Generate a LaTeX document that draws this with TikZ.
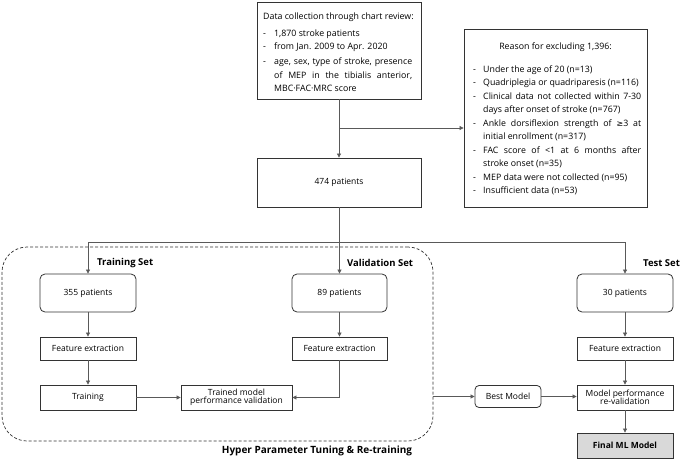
\documentclass[tikz,border=0pt]{standalone}
\usepackage{fontspec}
\setmainfont{Open Sans}
\newfontfamily\dejavu{DejaVu Sans}
\usetikzlibrary{arrows.meta}
\newcommand\itmA[1]{\makebox[11pt][l]{-}#1}
\newcommand\itmB[1]{\makebox[10pt][l]{-}#1}
\begin{document}
\begin{tikzpicture}[x=1pt,y=-1pt,
  box/.style={draw=black!80, line width=0.8pt, fill=white, inner sep=0pt, align=center, font=\fontsize{8.5}{10}\selectfont},
  rbox/.style={box, rounded corners=5pt},
  txt/.style={inner sep=0pt, align=left},
  lbl/.style={inner sep=0pt, font=\fontsize{9.5}{11}\selectfont\bfseries},
  ln/.style={draw=black!65, line width=0.7pt},
  arr/.style={ln, -{Triangle[length=4pt,width=4pt]}}]
\useasboundingbox (0,0) rectangle (685,460);

% dashed hyper-parameter region
\node[draw=black!80, dash pattern=on 3pt off 2pt, line width=0.7pt, rounded corners=25pt, minimum width=431, minimum height=194, inner sep=0pt] (hpt) at (217.5,344) {};

% top boxes
\node[box, minimum width=164, minimum height=97] (data) at (339,50.5) {};
\node[txt, anchor=north west, font=\fontsize{8.8}{14}\selectfont] (datatxt) at (263,10) {\begin{tabular}{@{}l@{}}
Data collection through chart review:\\[2pt]
\itmA{1,870 stroke patients}\\
\itmA{from Jan. 2009 to Apr. 2020}\\
\itmA{\makebox[138pt][s]{age, sex, type of stroke, presence}}\\
\hspace{11pt}\makebox[138pt][s]{of MEP in the tibialis anterior,}\\
\hspace{11pt}MBC·FAC·MRC score
\end{tabular}};

\node[box, minimum width=183, minimum height=178] (excl) at (555.5,118) {};
\node[inner sep=0pt, font=\fontsize{8.8}{10}\selectfont] (excltitle) at (555.5,47) {Reason for excluding 1,396:};
\node[txt, anchor=north west, font=\fontsize{8.8}{13.5}\selectfont] (excltxt) at (473,62.5) {\begin{tabular}{@{}l@{}}
\itmB{Under the age of 20 (n=13)}\\
\itmB{Quadriplegia or quadriparesis (n=116)}\\
\itmB{\makebox[158pt][s]{Clinical data not collected within 7-30}}\\
\hspace{10pt}days after onset of stroke (n=767)\\
\itmB{\makebox[158pt][s]{Ankle dorsiflexion strength of {\dejavu\fontsize{8}{10}\selectfont ≥}3 at}}\\
\hspace{10pt}initial enrollment (n=317)\\
\itmB{\makebox[158pt][s]{FAC score of <1 at 6 months after}}\\
\hspace{10pt}stroke onset (n=35)\\
\itmB{MEP data were not collected (n=95)}\\
\itmB{Insufficient data (n=53)}
\end{tabular}};

\node[box, minimum width=164, minimum height=49] (n474) at (339,182.5) {474 patients};

% set labels
\node[lbl, anchor=west] (trainlbl) at (97,263) {Training Set};
\node[lbl, anchor=west] (vallbl) at (347,263) {Validation Set};
\node[lbl, anchor=west] (testlbl) at (643,263) {Test Set};
\node[lbl, font=\fontsize{10}{12}\selectfont\bfseries] (hptlbl) at (317,451) {Hyper Parameter Tuning \& Re-training};

% training column
\node[rbox, minimum width=96, minimum height=38] (p355) at (88,293) {355 patients};
\node[box, minimum width=96, minimum height=23] (fe1) at (88,348.5) {Feature extraction};
\node[box, minimum width=96, minimum height=25] (train) at (88,397.5) {Training};
\node[box, minimum width=111, minimum height=25] (tmpv) at (236.5,397.5) {Trained model\\[-1.5pt]performance validation};

% validation column
\node[rbox, minimum width=95, minimum height=38] (p89) at (339.5,293) {89 patients};
\node[box, minimum width=95, minimum height=23] (fe2) at (339.5,348.5) {Feature extraction};

% test column
\node[rbox, minimum width=96, minimum height=38] (p30) at (625,293) {30 patients};
\node[box, minimum width=96, minimum height=23] (fe3) at (625,348.5) {Feature extraction};
\node[box, minimum width=96, minimum height=25] (mp) at (625,397.5) {Model performance\\[-1.5pt]re-validation};
\node[box, fill=black!15, minimum width=96, minimum height=25, font=\fontsize{8.5}{10}\selectfont\bfseries] (final) at (625,445.5) {Final ML Model};

\node[rbox, rounded corners=4pt, minimum width=66, minimum height=22] (best) at (508,396.5) {Best Model};

% connectors
\draw[arr] (data.south) -- (n474.north);
\coordinate (br) at (339,128);
\draw[arr] (br) -- (br -| excl.west);
\coordinate (split) at (339,242);
\draw[ln] (n474.south) -- (split);
\draw[ln] (split -| p355.north) -- (split -| p30.north);
\draw[arr] (split -| p355.north) -- (p355.north);
\draw[arr] (split -| p89.north) -- (p89.north);
\draw[arr] (split -| p30.north) -- (p30.north);

\draw[arr] (p355) -- (fe1);
\draw[arr] (fe1) -- (train);
\draw[arr] (train) -- (tmpv);
\draw[arr] (p89) -- (fe2);
\draw[arr] (fe2.south) |- (tmpv.east);

\draw[arr] (p30) -- (fe3);
\draw[arr] (fe3) -- (mp);
\draw[arr] (mp) -- (final);

\draw[arr] (best.west -| hpt.east) -- (best.west);
\draw[arr] (best.east) -- (best.east -| mp.west);
\end{tikzpicture}
\end{document}
